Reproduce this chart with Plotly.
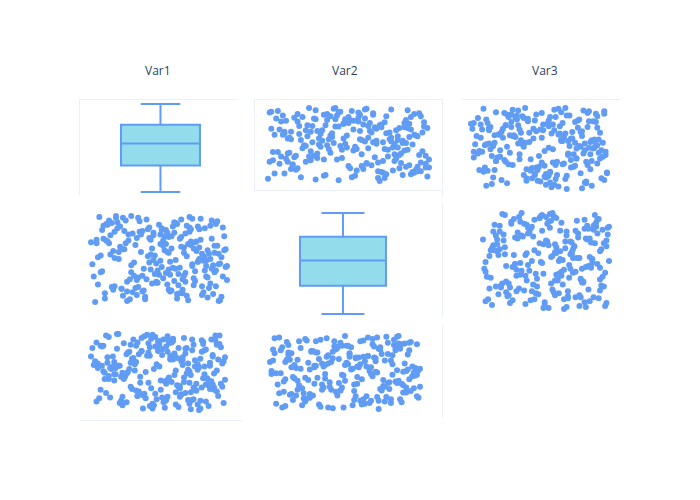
import plotly.graph_objects as go

titles = ["Var1", "Var2", "Var3"]

var1 = [37, 82, 15, 64, 91, 48, 6, 73, 29, 55, 88, 12, 67, 41, 95, 23, 59, 78, 3, 46,
        70, 34, 98, 19, 61, 85, 27, 52, 9, 76, 44, 93, 31, 58, 14, 81, 66, 38, 87, 21,
        49, 72, 5, 63, 90, 26, 57, 80, 17, 43, 96, 35, 68, 11, 54, 84, 30, 75, 47, 8,
        62, 99, 24, 51, 79, 40, 13, 69, 86, 33, 56, 2, 74, 45, 92, 18, 65, 28, 83, 50,
        39, 77, 10, 60, 94, 22, 53, 71, 36, 89, 16, 66, 42, 81, 25, 58, 97, 7, 48, 73,
        32, 85, 20, 57, 68, 44, 91, 14, 62, 79, 4, 51, 87, 29, 70, 38, 55, 93, 18, 76,
        45, 63, 27, 82, 11, 59, 74, 35, 96, 21, 52, 67, 1, 84, 40, 72, 30, 88, 56, 15,
        69, 47, 90, 24, 61, 78, 34, 53, 8, 86, 42, 65, 19, 75, 98, 31, 57, 83, 12, 49,
        71, 26, 94, 38, 64, 17, 80, 55, 43, 89, 6, 60, 76, 33, 52, 92, 23, 68, 46, 85,
        28, 74, 58, 13, 81, 50, 37, 95, 22, 66, 44, 87, 9, 62, 77, 35, 54, 90, 16, 70,
        41, 83, 25, 59, 97, 30, 72, 48, 14, 79, 63, 36, 91, 20, 56, 84, 5, 67, 43, 78,
        53, 18, 88, 39, 65, 27, 93, 61, 32, 75, 10, 57, 82, 46, 69, 24, 99, 51, 34, 73]

var2 = [58, 12, 77, 33, 90, 45, 21, 66, 4, 83, 39, 71, 27, 95, 52, 16, 62, 87, 30, 49,
        8, 74, 41, 97, 25, 60, 13, 85, 36, 69, 55, 2, 79, 47, 92, 19, 64, 31, 88, 50,
        23, 81, 68, 10, 57, 94, 38, 72, 15, 46, 86, 29, 63, 5, 76, 42, 99, 20, 54, 35,
        91, 26, 61, 48, 84, 7, 70, 34, 56, 17, 80, 44, 96, 22, 65, 51, 11, 78, 37, 89,
        14, 59, 73, 40, 3, 87, 28, 67, 93, 43, 18, 75, 53, 9, 82, 32, 60, 98, 24, 70,
        46, 6, 85, 57, 31, 72, 19, 94, 39, 63, 1, 78, 50, 27, 88, 13, 67, 44, 81, 36,
        62, 90, 24, 53, 11, 76, 42, 97, 30, 58, 83, 15, 69, 48, 4, 86, 35, 73, 21, 55,
        79, 33, 65, 8, 92, 47, 26, 71, 54, 17, 84, 40, 99, 28, 61, 12, 75, 51, 90, 37,
        3, 68, 45, 82, 20, 59, 96, 34, 74, 10, 52, 87, 25, 66, 41, 93, 16, 57, 80, 29,
        71, 44, 13, 89, 56, 32, 78, 7, 64, 95, 38, 22, 83, 49, 70, 18, 60, 35, 91, 53,
        27, 85, 61, 14, 76, 43, 98, 23, 68, 50, 5, 81, 37, 92, 58, 30, 72, 11, 86, 47,
        65, 19, 94, 39, 73, 2, 56, 80, 31, 62, 88, 15, 48, 77, 24, 97, 42, 67, 9, 84]

var3 = [44, 91, 17, 68, 30, 83, 55, 9, 76, 38, 62, 97, 21, 50, 86, 13, 71, 35, 59, 3,
        80, 26, 64, 47, 93, 12, 73, 39, 58, 85, 6, 52, 28, 90, 41, 67, 18, 77, 33, 99,
        15, 61, 88, 24, 70, 45, 96, 1, 57, 36, 82, 19, 65, 49, 11, 78, 31, 92, 54, 27,
        74, 40, 7, 86, 53, 22, 69, 94, 34, 60, 14, 81, 46, 29, 97, 63, 5, 75, 42, 89,
        20, 57, 84, 37, 66, 10, 79, 48, 25, 92, 56, 32, 71, 3, 87, 43, 61, 16, 95, 51,
        68, 34, 99, 18, 59, 82, 27, 45, 73, 8, 64, 90, 39, 54, 23, 77, 12, 85, 47, 30,
        93, 52, 11, 76, 41, 66, 2, 88, 35, 58, 80, 21, 70, 47, 96, 14, 62, 28, 83, 55,
        37, 7, 72, 49, 90, 26, 63, 17, 84, 42, 98, 31, 55, 78, 10, 67, 40, 86, 23, 60,
        81, 45, 19, 94, 33, 70, 56, 4, 75, 38, 61, 88, 15, 52, 27, 91, 44, 69, 9, 79,
        50, 24, 87, 62, 13, 77, 36, 97, 58, 29, 71, 6, 83, 46, 65, 19, 92, 34, 54, 74,
        16, 89, 41, 67, 31, 85, 53, 22, 95, 60, 8, 73, 48, 80, 35, 57, 12, 64, 87, 26,
        72, 39, 58, 3, 81, 48, 25, 66, 92, 14, 51, 76, 30, 98, 43, 18, 69, 57, 84, 36]

data = [var1, var2, var3]

BLUE = "#619CF4"
FILL = "rgb(146,220,236)"
LINE = "#EBF0F8"

W, H = 700, 500
L, R, T, B = 72, 88, 92, 88
PW, PH = W - L - R, H - T - B
OFF = 8  # page offset of the figure (body margin)


def clamp(v):
    return max(0.0, min(1.0, v))


def px(x):
    return (x - OFF - L) / PW


def py(y):
    return (T + PH - (y - OFF)) / PH


def xdom(a, b):
    return [clamp(px(a)), clamp(px(b))]


def ydom(top, bot):
    return [clamp(py(bot)), clamp(py(top))]


def xrange_for(vals, p0, p1, a, b):
    m, M = min(vals), max(vals)
    s = (b - a) / (M - m)
    return [m - (a - p0) / s, M + (p1 - b) / s]


def yrange_for(vals, ptop, pbot, top, bot):
    m, M = min(vals), max(vals)
    s = (bot - top) / (M - m)
    return [m - (pbot - bot) / s, M + (top - ptop) / s]


dom = {
    (0, 0): ((80, 238), (100, 195)),
    (0, 1): ((255, 442), (100, 190)),
    (0, 2): ((462, 620), (100, 198)),
    (1, 0): ((80, 238), (203, 318)),
    (1, 1): ((255, 442), (203, 318)),
    (1, 2): ((462, 620), (203, 318)),
    (2, 0): ((80, 242), (325, 420)),
    (2, 1): ((255, 442), (325, 420)),
    (2, 2): ((462, 620), (325, 418)),
}
pts = {
    (0, 1): ((268, 429), (108, 181)),
    (0, 2): ((471, 607), (108, 189)),
    (1, 0): ((91, 227), (216, 302)),
    (1, 2): ((483, 609), (213, 309)),
    (2, 0): ((91, 225), (334, 410)),
    (2, 1): ((270, 420), (336, 409)),
}
box_pos = {
    (0, 0): ((-0.713, 0.687), (104, 192)),
    (1, 1): ((-0.716, 0.806), (213, 314)),
}

fig = go.Figure()
layout = {}
k = 0
for r in range(3):
    for c in range(3):
        k += 1
        sfx = "" if k == 1 else str(k)
        (x0, x1), (y0, y1) = dom[(r, c)]
        xa = dict(domain=xdom(x0, x1), anchor="y" + sfx, showgrid=False,
                  zeroline=False, showticklabels=False, ticks="",
                  showline=False, linecolor=LINE, linewidth=1)
        ya = dict(domain=ydom(y0, y1), anchor="x" + sfx, showgrid=False,
                  zeroline=False, showticklabels=False, ticks="",
                  showline=False, linecolor=LINE, linewidth=1)
        if (r, c) in box_pos:
            xr, (wt, wb) = box_pos[(r, c)]
            xa["range"] = list(xr)
            ya["range"] = yrange_for(data[r], y0, y1, wt, wb)
            fig.add_trace(go.Box(y=data[r], x0=0, width=0.7, name=titles[r],
                                 boxpoints=False, fillcolor=FILL,
                                 line=dict(color=BLUE, width=2),
                                 xaxis="x" + sfx, yaxis="y" + sfx))
        elif (r, c) in pts:
            (ax, bx), (ty, by) = pts[(r, c)]
            xa["range"] = xrange_for(data[c], x0, x1, ax, bx)
            ya["range"] = yrange_for(data[r], y0, y1, ty, by)
            fig.add_trace(go.Scatter(x=data[c], y=data[r], mode="markers",
                                     marker=dict(color=BLUE, size=6),
                                     xaxis="x" + sfx, yaxis="y" + sfx))
        else:
            xa["range"] = [0, 1]
            ya["range"] = [0, 1]
            fig.add_trace(go.Scatter(x=[], y=[], mode="markers",
                                     xaxis="x" + sfx, yaxis="y" + sfx))
        if (r, c) == (0, 0):
            xa.update(showline=True, side="top")
            ya.update(showline=True)
        if (r, c) == (0, 1):
            xa.update(showline=True, mirror=True)
            ya.update(showline=True, mirror=True)
        if c == 2:
            ya.update(showline=True, anchor="free", position=px(442))
        if (r, c) == (0, 2):
            xa.update(showline=True, side="top")
        if (r, c) == (2, 0):
            xa.update(showline=True)
        layout["xaxis" + sfx] = xa
        layout["yaxis" + sfx] = ya

fig.update_layout(**layout)

title_x = [158, 345, 545]
for t, xp in zip(titles, title_x):
    fig.add_annotation(text=t, x=px(xp), y=py(70), xref="paper", yref="paper",
                       xanchor="center", yanchor="middle",
                       showarrow=False, font=dict(size=12, color="#2a3f5f"))

fig.update_layout(width=W, height=H, template="plotly_white", showlegend=False,
                  margin=dict(l=L, r=R, t=T, b=B),
                  paper_bgcolor="white", plot_bgcolor="white")

fig.write_html("out.html")
